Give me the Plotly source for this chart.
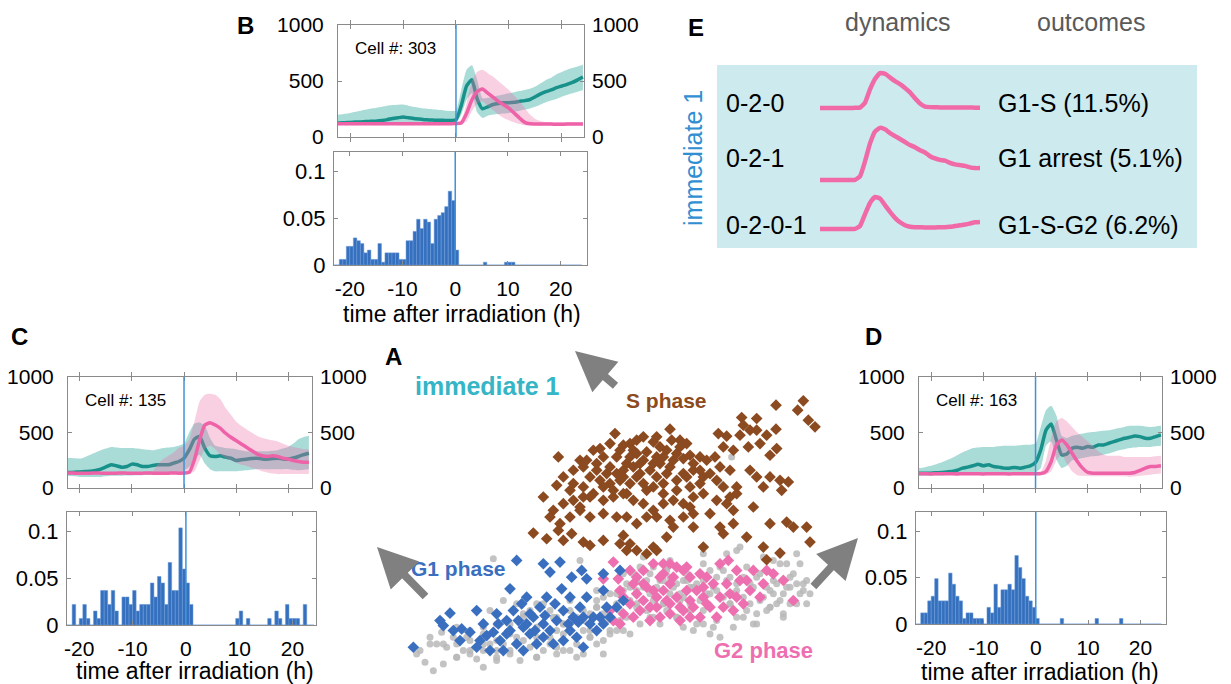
import plotly.graph_objects as go

W, H = 1231, 684
FONT = "Liberation Sans"
AXC = "#8a8a8a"

# ---------------------------------------------------------------- time grid
hours = list(range(-24, 25))            # hourly samples of the mean trajectories
bin_w = 2 / 3                           # histogram bin width (h)
bin_edges0 = -24

# ---------------------------------------------------------------- panel B (cell #303)
b_teal = [120, 122, 125, 128, 130, 133, 135, 138, 140, 143, 148, 155, 165, 172, 178, 172,
          165, 160, 155, 152, 150, 150, 148, 148, 152, 280, 455, 512, 340, 252, 270, 290,
          300, 305, 305, 310, 318, 325, 335, 360, 385, 405, 420, 440, 455, 470, 487, 510, 535]
b_teal_hi = [195, 197, 200, 207, 215, 225, 235, 245, 255, 262, 270, 278, 285, 288, 290, 280,
             270, 262, 255, 250, 245, 240, 235, 232, 235, 420, 600, 640, 510, 345, 350, 360,
             370, 380, 390, 400, 410, 420, 430, 450, 480, 510, 530, 560, 580, 600, 615, 630, 645]
b_teal_lo = [108, 110, 110, 112, 112, 113, 114, 115, 116, 117, 118, 120, 122, 125, 125, 124,
             122, 120, 120, 120, 120, 120, 120, 122, 125, 200, 330, 390, 220, 170, 190, 200,
             205, 210, 215, 225, 235, 245, 255, 270, 290, 310, 325, 340, 360, 375, 390, 405, 420]
b_pink = [118, 118, 119, 119, 118, 118, 118, 119, 119, 118, 118, 118, 119, 119, 118, 118,
          118, 119, 119, 118, 118, 118, 119, 119, 120, 125, 210, 330, 405, 428, 392, 356,
          318, 288, 258, 214, 170, 131, 118, 116, 115, 115, 115, 114, 114, 115, 115, 115, 115]
b_pink_hi = [132, 132, 133, 132, 132, 131, 132, 133, 132, 132, 131, 132, 133, 132, 132, 131,
             132, 133, 132, 132, 131, 132, 133, 132, 134, 150, 300, 500, 580, 600, 570, 540,
             500, 460, 420, 370, 320, 260, 200, 160, 140, 132, 131, 132, 132, 131, 132, 132, 131]
b_pink_lo = [106, 106, 107, 106, 106, 105, 106, 107, 106, 106, 105, 106, 107, 106, 106, 105,
             106, 107, 106, 106, 105, 106, 107, 106, 107, 110, 140, 230, 300, 320, 280, 240,
             200, 170, 150, 130, 115, 104, 104, 104, 103, 104, 104, 104, 103, 104, 104, 104, 104]
b_hist = [0, 0, 0, .006, .006, .020, .020, .029, .026, .023, .013, .016,
          .006, .006, .023, .003, .013, .013, .013, .013, .006, .006, .026, .026,
          .036, .049, .039, .049, .046, .023, .049, .053, .056, .0625, .079, .069,
          .016, 0, 0, 0, 0, 0, 0, 0, .003, 0, 0, 0,
          0, 0, .003, .003, .003, 0, 0, 0, 0, 0, 0, 0,
          0, 0, 0, 0, 0, 0, 0, 0, 0, 0, 0, 0]

# ---------------------------------------------------------------- panel C (cell #135)
c_teal = [140, 140, 140, 142, 145, 148, 150, 158, 170, 190, 209, 200, 188, 194, 215, 209,
          194, 194, 203, 209, 209, 209, 224, 239, 269, 343, 440, 465, 358, 290, 284, 290,
          278, 269, 248, 254, 260, 265, 269, 262, 260, 265, 269, 262, 260, 270, 284, 300, 313]
c_teal_hi = [270, 270, 270, 268, 265, 280, 300, 320, 340, 355, 370, 365, 360, 360, 360, 355,
             350, 345, 340, 350, 360, 365, 370, 380, 400, 500, 580, 590, 560, 450, 380, 370,
             360, 355, 350, 340, 330, 330, 330, 330, 330, 335, 340, 355, 370, 400, 440, 460, 470]
c_teal_lo = [105, 105, 108, 106, 100, 100, 100, 100, 100, 105, 110, 110, 110, 112, 113, 115,
             115, 116, 118, 120, 122, 125, 128, 130, 160, 190, 260, 300, 220, 170, 150, 150,
             150, 150, 150, 155, 160, 165, 170, 170, 170, 170, 170, 170, 170, 165, 160, 165, 170]
c_pink = [134, 134, 135, 134, 133, 134, 134, 135, 134, 133, 134, 134, 135, 134, 133, 134,
          134, 135, 134, 133, 134, 134, 135, 134, 135, 140, 254, 433, 567, 588, 567, 537,
          493, 457, 427, 397, 367, 337, 307, 290, 284, 290, 284, 269, 260, 248, 239, 233, 233]
c_pink_hi = [140, 141, 140, 142, 140, 141, 140, 142, 140, 141, 140, 142, 140, 141, 140, 142,
             140, 141, 150, 220, 260, 290, 320, 360, 380, 440, 600, 780, 840, 850, 840, 800,
             720, 660, 600, 560, 530, 500, 470, 450, 440, 430, 420, 400, 380, 370, 360, 350, 350]
c_pink_lo = [122, 122, 123, 122, 121, 122, 122, 123, 122, 121, 122, 122, 123, 122, 121, 122,
             122, 123, 122, 121, 122, 122, 123, 122, 122, 125, 150, 250, 350, 380, 350, 300,
             270, 250, 230, 210, 200, 180, 170, 150, 140, 130, 125, 125, 125, 125, 125, 125, 125]
c_hist = [0, 0, 0, 0, .022, 0, .007, .022, .007, 0, .015, .007,
          .037, .037, .022, .037, .015, 0, .030, .030, .022, .037, .015, .022,
          .022, .022, .045, .030, .052, .045, .022, .067, .037, .037, .104, .060,
          .045, .022, 0, 0, 0, 0, 0, 0, 0, 0, 0, 0,
          0, 0, .007, .015, 0, .007, 0, 0, 0, 0, 0, .007,
          0, .015, .007, 0, .022, .007, .007, .007, 0, .022, 0, 0]

# ---------------------------------------------------------------- panel D (cell #163)
d_teal = [134, 134, 134, 134, 134, 137, 140, 145, 149, 160, 179, 188, 200, 215, 200, 209,
          194, 188, 179, 179, 185, 179, 188, 200, 230, 343, 522, 576, 433, 299, 307, 358,
          367, 358, 373, 367, 388, 388, 403, 418, 433, 448, 457, 469, 463, 448, 448, 463, 478]
d_teal_hi = [175, 178, 180, 190, 200, 215, 230, 250, 270, 295, 320, 340, 360, 365, 370, 370,
             370, 375, 380, 380, 380, 385, 390, 390, 400, 550, 700, 740, 650, 470, 450, 470,
             480, 490, 500, 505, 510, 515, 520, 530, 540, 550, 560, 560, 560, 555, 550, 555, 560]
d_teal_lo = [110, 110, 110, 110, 110, 112, 113, 115, 116, 118, 120, 120, 120, 120, 120, 120,
             120, 120, 120, 120, 120, 122, 125, 130, 140, 180, 380, 420, 260, 180, 200, 250,
             260, 270, 280, 285, 290, 300, 310, 325, 340, 350, 360, 365, 370, 370, 370, 375, 380]
d_pink = [128, 128, 129, 128, 127, 128, 128, 129, 128, 127, 128, 128, 129, 128, 127, 128,
          128, 129, 128, 127, 128, 128, 129, 128, 128, 130, 149, 239, 388, 433, 388, 313,
          239, 179, 140, 134, 134, 134, 134, 134, 134, 134, 134, 140, 158, 179, 194, 194, 200]
d_pink_hi = [140, 140, 141, 140, 139, 140, 140, 141, 140, 139, 140, 140, 141, 140, 139, 140,
             140, 141, 140, 139, 140, 140, 141, 140, 140, 142, 250, 450, 600, 630, 600, 550,
             500, 460, 420, 380, 330, 300, 290, 290, 290, 280, 280, 280, 280, 280, 280, 285, 290]
d_pink_lo = [116, 116, 117, 116, 115, 116, 116, 117, 116, 115, 116, 116, 117, 116, 115, 116,
             116, 117, 116, 115, 116, 116, 117, 116, 116, 116, 120, 150, 250, 300, 220, 150,
             115, 110, 108, 105, 105, 105, 105, 105, 105, 105, 100, 105, 110, 115, 120, 125, 130]
d_hist = [0, 0, 0, .012, .012, .025, .030, .049, .025, .025, .025, .055,
          .043, .030, .025, .006, .012, .012, .006, .006, .006, 0, .018, .012,
          .043, .018, .037, .037, .043, .037, .074, .061, .049, .030, .025, .018,
          .006, 0, 0, 0, 0, 0, 0, .006, 0, 0, 0, 0,
          0, 0, 0, 0, 0, .006, 0, 0, 0, 0, 0, 0,
          .006, 0, 0, 0, 0, 0, 0, 0, 0, 0, 0, 0]

# ---------------------------------------------------------------- panel A (state space)
s_x = [121.8, 130, 128.3, 131.5, 133.5, 111.5, 116, 112, 116, 119, 121.8, 104.5, 107, 111, 114,
       73.5, 90, 93, 95, 90.5, 80, 78, 76, 82, 85, 87, 69, 67, 70, 75, 78, 80, 83, 86, 89, 92,
       94, 96, 99, 101, 103.5, 106, 109, 113.5, 117, 120, 122, 56.5, 63, 64, 61, 68, 72, 74,
       76, 79, 81, 84, 87, 90, 94, 97, 100, 102, 105, 108, 114, 116, 120, 123, 125.5, 123.5,
       118, 110, 106, 104, 99, 96, 92, 88, 85, 82, 80, 78, 75, 72, 69, 66, 64, 60, 56, 52, 55,
       58, 61, 64, 67, 70, 73, 76, 79, 82, 85, 88, 91, 94, 97, 100, 108, 110, 104, 107, 115,
       109, 102, 97, 94, 90, 86, 83, 80, 77, 74, 70, 66, 63, 60, 57, 54, 60.5, 56.5, 53, 49,
       58, 64, 66, 70, 76, 78, 80, 85, 83, 86, 89, 91, 97, 100, 106, 109, 113, 120, 125, 127,
       131, 132, 118, 123, 119, 75, 77, 96, 105, 72, 74, 77, 79, 82, 85, 88, 91, 93, 76, 81,
       86, 89, 71, 68, 83, 77, 73, 66, 63, 88, 92, 95, 97, 99, 70, 61, 58, 65, 86]
s_y = [83.5, 84.8, 82, 79, 77, 79.8, 79.5, 77.5, 76, 74.5, 76.3, 75, 74.2, 74.5, 76,
       75, 76.3, 73, 72, 73, 73, 72, 71.5, 74, 72.5, 71, 70.5, 70, 68, 70, 68, 69, 69.5, 68, 70,
       69, 67.5, 68.5, 68, 67, 68, 71, 70, 71, 72, 68.5, 70.5, 68, 67, 65, 64, 66, 65, 63,
       64, 65, 66, 64, 66, 65, 63, 64, 62, 63, 65, 64, 64, 62, 62, 61, 60.5, 58,
       59, 59, 59, 61, 60, 59, 61, 60, 59, 60, 62, 60, 61, 60, 61, 62, 59, 58, 59.5, 56, 52,
       54, 55, 56, 57, 55, 56, 57, 55, 54, 52, 54, 55, 54, 56, 57, 56, 57, 55, 54, 53,
       52, 51, 51, 50, 49, 50, 50, 48, 50, 50, 51, 50, 52, 50, 48, 50, 45, 46, 43.5, 45.2,
       43, 42.5, 41.5, 43, 44.5, 42, 40, 41, 39, 40, 44, 47, 47, 41, 45, 48, 44, 48, 48.5, 47,
       47, 42.5, 41, 39.2, 37.2, 42, 40, 53, 47, 72, 68, 66, 70, 67, 66, 68, 67, 71, 62, 63,
       62, 63, 63, 64, 58, 57, 58, 56, 53, 57, 58, 62, 66, 64, 59, 60, 62, 67, 74]
g1_x = [13, 24, 22, 27.5, 32, 30, 34, 33, 36, 37, 39, 41, 42, 44, 43, 45.5, 47, 48, 50, 49, 51,
        52, 54, 56, 58, 60, 61, 63, 64, 66, 68, 69, 71, 70, 65, 60, 57.5, 52, 54, 57, 44, 42,
        60.5, 63.5, 65, 70, 75, 72, 55, 58, 46, 40, 32, 35, 27, 52, 62, 70, 74, 76, 59.5, 48,
        41, 38.5, 44.5, 55.5, 52.5, 49.5, 62.5, 67, 21, 25, 38, 46, 53, 47, 64]
g1_y = [11, 21.2, 17.5, 16.5, 22, 15.5, 18, 13, 10, 15.5, 13, 19, 16, 12, 22, 24, 18, 15, 12, 20,
        23, 18, 16, 19, 22, 16, 20, 23, 11, 18, 16, 20, 23, 28, 26, 26, 28.5, 36, 33.5, 36.5,
        37, 28.5, 32, 34, 31.5, 33, 34, 20, 12, 13, 10, 10, 11, 14.5, 13, 14, 14, 18, 23, 25,
        18, 21, 15, 18, 19, 24, 20.5, 16, 18.5, 20, 19, 16, 21, 17, 26, 26, 20]
g2_x = [73, 70, 74.5, 78, 80, 82, 85, 88, 90, 92, 94, 96, 99, 105, 107.5, 110, 115, 119, 121,
        124, 127, 76, 78, 80, 82, 84, 86, 88, 90, 92, 94, 96, 98, 100, 102, 104, 106, 108, 110,
        112, 114, 117, 76, 79, 81, 84, 87, 90, 93, 96, 99, 73, 72, 75, 100, 95, 87, 82, 90, 101,
        103, 107, 111, 85, 89, 93, 97, 91, 83, 79, 75, 86, 101, 105, 109, 113, 118, 95, 88]
g2_y = [36.5, 31.5, 31.5, 34, 32, 30, 36, 36, 36, 35, 34, 32, 33, 36, 37, 34, 34, 34, 33, 31,
        25, 26, 24, 27, 25, 23, 26, 28, 24, 26, 22, 25, 28, 26, 23, 20, 23, 27, 26, 24, 28, 26,
        21, 20, 22, 19, 20, 21, 19, 20, 20, 19, 22, 18, 29, 28, 32, 34, 30, 32, 30, 30, 31, 28,
        25, 23, 23, 32, 29, 30, 28, 23, 24, 26, 22, 31, 30, 35, 33]
un_x = [16.5, 19, 20, 21.5, 25, 26, 28, 30, 32, 34, 36, 38, 40, 42, 44, 46, 48, 50, 52, 54, 56,
        58, 60, 62, 64, 66, 68, 70, 72, 74, 76, 78, 80, 82, 84, 86, 88, 90, 92, 94, 96, 98, 100,
        102, 104, 106, 108, 110, 112, 114, 116, 118, 120, 122, 124, 126, 128, 130, 131, 129,
        128, 123, 121, 111, 107, 105, 108.5, 37, 63, 82, 68, 70, 66, 60, 56, 50, 45, 38, 34, 29,
        23, 18, 15, 87, 92, 98, 104, 110, 116, 120, 124, 105, 100, 94, 88, 83, 77, 74, 112, 118,
        126, 106, 99, 90, 85, 80, 72, 68, 64, 76, 70, 115, 125, 130, 132, 122, 96, 102, 108,
        114, 119, 104, 110, 93, 89, 85, 81, 97, 103, 109, 113, 117, 121, 126, 95, 100, 89, 84,
        78, 75, 71, 68, 64, 58, 55, 50, 46, 42, 38, 34, 30, 26, 22, 56, 52, 60, 48, 44, 40, 36,
        75, 77, 79, 81, 83, 85, 87, 89, 91, 93, 95, 97, 99, 101, 103, 105, 107, 109, 111, 113,
        115, 117, 119, 121, 123, 125, 127, 129, 131, 76, 80, 84, 88, 92, 96, 100, 104, 108, 112,
        116, 120, 124, 128, 86, 94, 102, 78, 74, 70, 66, 62, 58, 54, 50, 46, 42, 38, 34, 30, 26,
        22, 18, 14, 62, 58, 54, 50, 46, 42, 38, 34, 30, 26, 72, 68, 64, 60, 56, 66, 70, 80, 90,
        100, 110, 118]
un_y = [6.5, 4, 12, 15.5, 14, 8, 10, 10, 7.5, 10, 12, 10, 12, 10, 14, 13, 11, 14, 10, 14, 16,
        15, 18, 20, 16, 21, 23, 26, 27, 27, 28, 29, 28, 29, 27, 29, 31, 32, 30, 31, 29, 30, 31,
        34, 32, 34, 32, 30, 32, 30, 32, 30, 28, 30, 27, 29, 30, 28, 24, 36,
        39, 36, 37, 41, 39, 60, 68, 37.5, 37, 38, 28, 21, 16, 10, 11, 8, 7, 7, 5, 14,
        11, 14, 10, 18, 20, 18, 19, 20, 21, 23, 21, 14, 22, 26, 24, 22, 20, 24, 26, 26,
        24, 26, 25, 27, 25, 23, 16, 12, 9, 16, 9, 18, 36, 30, 27, 24, 24, 27, 24,
        24, 22, 28, 28, 25, 22, 20, 18, 16, 17, 17, 22, 33, 27, 32, 31, 36, 34, 33,
        25, 22, 19, 25, 22, 18, 20, 24, 20, 18, 18, 15, 13, 12, 12, 9, 24, 22, 22, 24, 25, 22, 19,
        30, 33, 35, 31, 35, 31, 35, 29, 27, 33, 29, 33, 27, 29, 35, 31, 27, 31, 35, 29,
        25, 29, 31, 25, 29, 33, 27, 31, 33, 24, 20, 24, 20, 22, 18, 20, 24, 20, 18,
        23, 20, 24, 26, 17, 15, 15, 16, 13, 14, 12, 10, 12, 8, 10, 9, 8, 12, 9, 8, 6,
        12, 9, 8, 18, 22, 17, 21, 15, 13, 17, 16, 17, 15, 23, 19, 25, 20, 14, 28, 31, 37, 39,
        40, 38, 37]

# ---------------------------------------------------------------- panel E (cluster means)
e_hours = list(range(-8, 25))
e_020 = [130, 131, 130, 130, 131, 130, 130, 132, 135, 200, 380, 520, 600, 590, 540, 490, 450,
         400, 340, 260, 190, 150, 142, 140, 138, 138, 137, 137, 136, 136, 136, 135, 135]
e_021 = [130, 130, 131, 130, 130, 131, 130, 132, 180, 380, 620, 780, 830, 810, 760, 720, 680,
         640, 600, 570, 530, 500, 450, 420, 400, 390, 360, 340, 330, 320, 300, 290, 290]
e_0201 = [130, 130, 131, 130, 130, 131, 130, 132, 170, 330, 480, 560, 540, 450, 360, 280, 220,
          180, 160, 155, 155, 150, 150, 150, 155, 155, 160, 170, 180, 190, 205, 220, 225]
e_codes = ["0-2-0", "0-2-1", "0-2-0-1"]
e_outcomes = ["G1-S (11.5%)", "G1 arrest (5.1%)", "G1-S-G2 (6.2%)"]

# ---------------------------------------------------------------- styling
TEAL = "#17918a"
TEAL_BAND = "rgba(50,170,160,0.42)"
PINK = "#ee62a8"
PINK_BAND = "rgba(236,110,168,0.33)"
BAR = "#3570be"
VLINE = "#3f92d6"


def xr(n):
    return "x" if n == 1 else f"x{n}"


def yr(n):
    return "y" if n == 1 else f"y{n}"


def xk(n):
    return "xaxis" if n == 1 else f"xaxis{n}"


def yk(n):
    return "yaxis" if n == 1 else f"yaxis{n}"


def dom_x(a, b):
    return [a / W, b / W]


def dom_y(top, bottom):
    return [1 - bottom / H, 1 - top / H]


tick_font = dict(family=FONT, size=21, color="black")
frame = dict(showline=True, linecolor=AXC, linewidth=1, mirror="allticks", ticks="inside",
             ticklen=4, tickcolor=AXC, showgrid=False, zeroline=False, tickfont=tick_font,
             automargin=False)

fig = go.Figure()
shapes = []
annotations = []
layout_axes = {}
bin_centers = [bin_edges0 + (k + 0.5) * bin_w for k in range(len(b_hist))]


def add_cell_panel(n, top_box, hist_box, xr_top, xr_hist, series, hist, cell, xlabel_pos):
    teal, teal_lo, teal_hi, pink, pink_lo, pink_hi = series
    xa, ya = xr(n), yr(n)
    common = dict(xaxis=xa, yaxis=ya, showlegend=False, hoverinfo="skip")
    sm = dict(shape="spline", smoothing=0.5)
    fig.add_trace(go.Scatter(x=hours, y=teal_lo, mode="lines", line=dict(width=0, **sm), **common))
    fig.add_trace(go.Scatter(x=hours, y=teal_hi, mode="lines", line=dict(width=0, **sm),
                             fill="tonexty", fillcolor=TEAL_BAND, **common))
    fig.add_trace(go.Scatter(x=hours, y=teal, mode="lines", line=dict(color=TEAL, width=3.5, **sm), **common))
    fig.add_trace(go.Scatter(x=hours, y=pink_lo, mode="lines", line=dict(width=0, **sm), **common))
    fig.add_trace(go.Scatter(x=hours, y=pink_hi, mode="lines", line=dict(width=0, **sm),
                             fill="tonexty", fillcolor=PINK_BAND, **common))
    fig.add_trace(go.Scatter(x=hours, y=pink, mode="lines", line=dict(color=PINK, width=3.5, **sm), **common))
    # right-hand copy of the intensity axis
    fig.add_trace(go.Scatter(x=[None], y=[None], xaxis=xa, yaxis=yr(n + 1), showlegend=False,
                             hoverinfo="skip"))

    x0, x1, y0, y1 = top_box
    layout_axes[xk(n)] = dict(frame, domain=dom_x(x0, x1), anchor=ya, range=xr_top,
                              tickvals=[-20, -10, 0, 10, 20], showticklabels=False)
    layout_axes[yk(n)] = dict(frame, domain=dom_y(y0, y1), anchor=xa, range=[0, 1000],
                              tickvals=[0, 500, 1000], ticklabelstandoff=9)
    layout_axes[yk(n + 1)] = dict(overlaying=ya, side="right", anchor=xa, range=[0, 1000],
                                  tickvals=[0, 500, 1000], showline=False, ticks="",
                                  showgrid=False, zeroline=False, tickfont=tick_font,
                                  ticklabelstandoff=7, automargin=False)
    shapes.append(dict(type="line", xref=xa, yref=f"{ya} domain", x0=0, x1=0, y0=0, y1=1,
                       line=dict(color=VLINE, width=1.5)))
    annotations.append(dict(text=cell, xref=f"{xa} domain", yref=f"{ya} domain",
                            x=15 / (x1 - x0), y=1 - 23 / (y1 - y0), xanchor="left",
                            yanchor="middle", showarrow=False,
                            font=dict(family=FONT, size=17, color="black")))

    hn = n + 2
    hx, hy = xr(hn), yr(hn)
    fig.add_trace(go.Bar(x=bin_centers, y=hist, width=bin_w, xaxis=hx, yaxis=hy,
                         marker=dict(color=BAR, line=dict(color="#6a9ad8", width=0.5)),
                         showlegend=False, hoverinfo="skip"))
    hx0, hx1, hy0, hy1 = hist_box
    layout_axes[xk(hn)] = dict(frame, domain=dom_x(hx0, hx1), anchor=hy, range=xr_hist,
                               tickvals=[-20, -10, 0, 10, 20],
                               ticktext=["-20", "-10", "0", "10", "20"], ticklabelstandoff=5)
    layout_axes[yk(hn)] = dict(frame, domain=dom_y(hy0, hy1), anchor=hx, range=[0, 0.121],
                               tickvals=[0, 0.05, 0.1], ticktext=["0", "0.05", "0.1"],
                               ticklabelstandoff=3,
                               tickfont=dict(family=FONT, size=22, color="black"))
    shapes.append(dict(type="line", xref=hx, yref=f"{hy} domain", x0=0, x1=0, y0=0, y1=1,
                       line=dict(color=VLINE, width=1.5)))
    annotations.append(dict(text="time after irradiation (h)", xref="paper", yref="paper",
                            x=xlabel_pos[0] / W, y=1 - xlabel_pos[1] / H, xanchor="center",
                            yanchor="middle", showarrow=False,
                            font=dict(family=FONT, size=23, color="black")))


add_cell_panel(1, (338, 584, 25, 137), (334, 587, 152, 265), [-22.3, 24.2], [-23.0, 25.0],
               (b_teal, b_teal_lo, b_teal_hi, b_pink, b_pink_lo, b_pink_hi), b_hist,
               "Cell #: 303", (462, 314))
add_cell_panel(4, (68, 312, 377, 488), (67, 316, 512, 625), [-22.3, 24.6], [-22.3, 24.4],
               (c_teal, c_teal_lo, c_teal_hi, c_pink, c_pink_lo, c_pink_hi), c_hist,
               "Cell #: 135", (195, 671))
add_cell_panel(7, (919, 1162, 377, 488), (916, 1166, 512, 624), [-22.3, 24.2], [-22.9, 24.9],
               (d_teal, d_teal_lo, d_teal_hi, d_pink, d_pink_lo, d_pink_hi), d_hist,
               "Cell #: 163", (1040, 672))

# ---------------------------------------------------------------- panel A scatter
hidden = dict(visible=False, showgrid=False, zeroline=False, automargin=False)
sa = dict(xaxis="x10", yaxis="y10", mode="markers", showlegend=False, hoverinfo="skip")
fig.add_trace(go.Scatter(x=un_x, y=un_y, marker=dict(symbol="circle", size=7, color="#b9b9b9",
                                                     opacity=0.85, line=dict(width=0)), **sa))
fig.add_trace(go.Scatter(x=g2_x, y=g2_y, marker=dict(symbol="diamond", size=9, color="#ee6fb0",
                                                     line=dict(width=0)), **sa))
fig.add_trace(go.Scatter(x=g1_x, y=g1_y, marker=dict(symbol="diamond", size=9, color="#3a6fc0",
                                                     line=dict(width=0)), **sa))
fig.add_trace(go.Scatter(x=s_x, y=s_y, marker=dict(symbol="diamond", size=9, color="#8c4a20",
                                                   line=dict(width=0)), **sa))
layout_axes["xaxis10"] = dict(hidden, domain=dom_x(370, 830), anchor="y10", range=[0, 138])
layout_axes["yaxis10"] = dict(hidden, domain=dom_y(330, 684), anchor="x10", range=[0, 106])

# ---------------------------------------------------------------- panel E curves
e_rows = [(e_020, 117.7), (e_021, 189.7), (e_0201, 238.7)]
for i, (vals, base_px) in enumerate(e_rows):
    n = 11 + i
    fig.add_trace(go.Scatter(x=e_hours, y=vals, mode="lines", xaxis=xr(n), yaxis=yr(n),
                             line=dict(color="#f06aa8", width=4.5, shape="spline", smoothing=0.4),
                             showlegend=False, hoverinfo="skip"))
    layout_axes[xk(n)] = dict(hidden, domain=dom_x(820, 980), anchor=yr(n), range=[-8, 24])
    layout_axes[yk(n)] = dict(hidden, domain=dom_y(base_px - 74.5, base_px), anchor=xr(n),
                              range=[0, 1000])

shapes.append(dict(type="rect", xref="paper", yref="paper", x0=717 / W, x1=1197 / W,
                   y0=1 - 248 / H, y1=1 - 65 / H, fillcolor="#cdeaee", line=dict(width=0),
                   layer="below"))


def label(text, x, y, size, color="black", bold=False, anchor="center", angle=0):
    annotations.append(dict(text=f"<b>{text}</b>" if bold else text, xref="paper", yref="paper",
                            x=x / W, y=1 - y / H, xanchor=anchor, yanchor="middle",
                            showarrow=False, textangle=angle,
                            font=dict(family=FONT, size=size, color=color)))


# panel letters
label("B", 245, 25, 24, bold=True)
label("C", 20, 336, 24, bold=True)
label("D", 873, 336, 24, bold=True)
label("A", 393, 357, 24, bold=True)
label("E", 696, 27, 24, bold=True)

# state-space labels
label("immediate 1", 488, 386, 25, "#35b5c5", bold=True)
label("S phase", 666, 400, 21, "#8c4a20", bold=True)
label("G1 phase", 458, 568, 21, "#3a6fc0", bold=True)
label("G2 phase", 763, 650, 22, "#ee6fb0", bold=True)

# panel E text
label("dynamics", 898, 22, 25, "#5a5a5a")
label("outcomes", 1091, 22, 25, "#5a5a5a")
label("immediate 1", 693, 158, 25, "#2f8fd2", angle=-90)
for code, outcome, yy in zip(e_codes, e_outcomes, [103, 158, 225]):
    label(code, 724, yy, 25, anchor="left")
    label(outcome, 996, yy, 25, anchor="left")

# grey arrows pointing to panels B, C and D
for (hx_, hy_), (tx, ty) in [((575, 351), (617, 387)), ((377, 547), (427, 598)),
                             ((858, 538), (812, 588))]:
    annotations.append(dict(text="", xref="paper", yref="paper", x=hx_ / W, y=1 - hy_ / H,
                            axref="pixel", ayref="pixel", ax=tx - hx_, ay=ty - hy_,
                            showarrow=True, arrowhead=2, arrowsize=1, arrowwidth=8,
                            arrowcolor="#808080"))

fig.update_layout(template="none", width=W, height=H, autosize=False,
                  margin=dict(l=0, r=0, t=0, b=0, pad=0),
                  paper_bgcolor="white", plot_bgcolor="rgba(0,0,0,0)",
                  font=dict(family=FONT), shapes=shapes, annotations=annotations,
                  **layout_axes)

fig.write_html("out.html")
